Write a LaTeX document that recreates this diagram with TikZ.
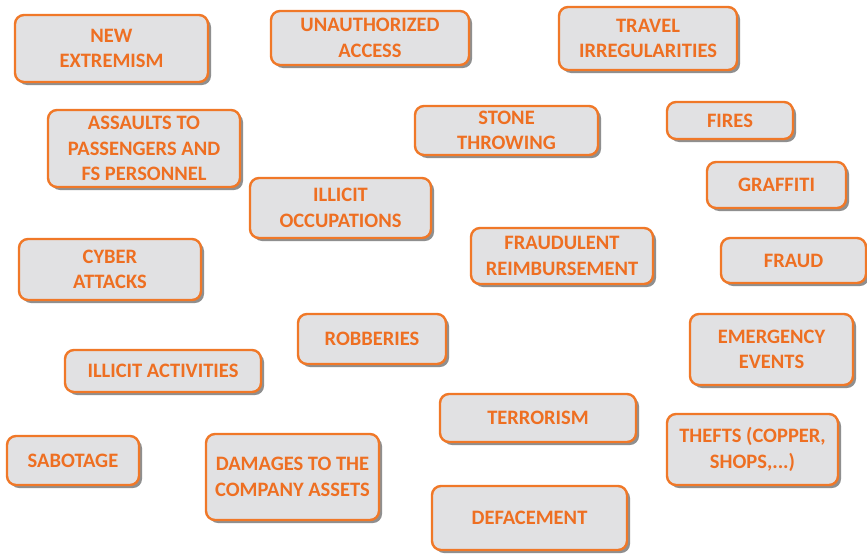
\documentclass[tikz,border=0pt]{standalone}
\usepackage{fontspec}
\setmainfont{Carlito}
\usetikzlibrary{shadows}
\definecolor{boxorange}{HTML}{F07828}
\definecolor{textorange}{HTML}{EE6F22}
\definecolor{boxfill}{HTML}{E1E1E3}
\tikzset{
  riskbox/.style={draw=boxorange, fill=boxfill, line width=2.4pt, rounded corners=9pt,
    align=center, text=textorange, font=\fontsize{20.5}{25.5}\selectfont\bfseries,
    inner sep=0pt,
    drop shadow={shadow xshift=3pt, shadow yshift=-3pt, fill=black!55, opacity=0.8}}
}
\newcommand{\riskbox}[6]{%
  \pgfmathsetmacro{\cxx}{(#2+#4)/2}\pgfmathsetmacro{\cyy}{(#3+#5)/2}%
  \pgfmathsetmacro{\ww}{#4-#2}\pgfmathsetmacro{\hh}{#5-#3}%
  \node[riskbox, minimum width=\ww pt, minimum height=\hh pt] (#1) at (\cxx,\cyy) {#6};}
\begin{document}
\begin{tikzpicture}[x=1pt,y=-1pt]
\useasboundingbox (0,0) rectangle (867,557);
\fill[white] (0,0) rectangle (867,557);
\riskbox{ext}{15}{15}{208}{82}{NEW\\EXTREMISM}
\riskbox{unauth}{271}{11}{469}{65}{UNAUTHORIZED\\ACCESS}
\riskbox{travel}{559}{7}{737}{70}{TRAVEL\\IRREGULARITIES}
\riskbox{assault}{48}{110}{240}{187}{ASSAULTS TO\\PASSENGERS AND\\FS PERSONNEL}
\riskbox{stone}{415}{106}{598}{155}{STONE\\THROWING}
\riskbox{fires}{667}{102}{793}{139}{FIRES}
\riskbox{occup}{250}{178}{431}{238}{ILLICIT\\OCCUPATIONS}
\riskbox{graff}{707}{162}{846}{208}{GRAFFITI}
\riskbox{cyber}{19}{239}{201}{300}{CYBER\\ATTACKS}
\riskbox{reimb}{471}{228}{653}{284}{FRAUDULENT\\REIMBURSEMENT}
\riskbox{fraud}{721}{238}{866}{283}{FRAUD}
\riskbox{robb}{298}{314}{446}{364}{ROBBERIES}
\riskbox{emerg}{690}{314}{853}{385}{EMERGENCY\\EVENTS}
\riskbox{activ}{65}{350}{261}{392}{ILLICIT ACTIVITIES}
\riskbox{terror}{440}{394}{636}{442}{TERRORISM}
\riskbox{thefts}{667}{414}{838}{485}{THEFTS (COPPER,\\SHOPS,...)}
\riskbox{sabot}{7}{436}{139}{485}{SABOTAGE}
\riskbox{damage}{206}{434}{379}{520}{DAMAGES TO THE\\COMPANY ASSETS}
\riskbox{deface}{432}{486}{627}{550}{DEFACEMENT}
\end{tikzpicture}
\end{document}
